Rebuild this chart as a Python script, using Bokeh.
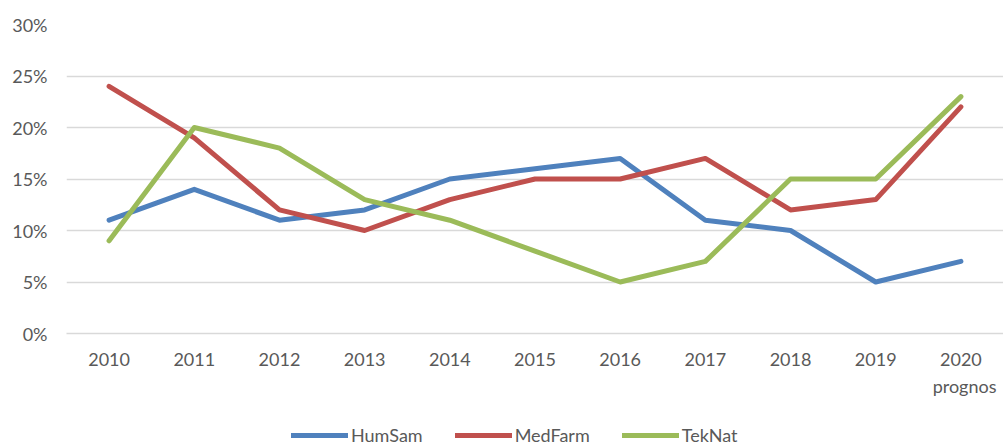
from bokeh.plotting import figure
from bokeh.layouts import column
from bokeh.models import FactorRange, Legend, LegendItem, Range1d, NumeralTickFormatter, FixedTicker, Title
from bokeh.embed import file_html
from bokeh.resources import INLINE

years = ["2010", "2011", "2012", "2013", "2014", "2015", "2016", "2017", "2018", "2019", "2020"]
humsam = [0.11, 0.14, 0.11, 0.12, 0.15, 0.16, 0.17, 0.11, 0.10, 0.05, 0.07]
medfarm = [0.24, 0.19, 0.12, 0.10, 0.13, 0.15, 0.15, 0.17, 0.12, 0.13, 0.22]
teknat = [0.09, 0.20, 0.18, 0.13, 0.11, 0.08, 0.05, 0.07, 0.15, 0.15, 0.23]
y_ticks = [0, 0.05, 0.10, 0.15, 0.20, 0.25, 0.30]
last_label_extra = "prognos"
series_names = ["HumSam", "MedFarm", "TekNat"]
series_colors = ["#4F81BD", "#C0504D", "#9BBB59"]
series_values = [humsam, medfarm, teknat]

FONT = "Lato"
FS = "18px"
TXT = "#595959"

p = figure(x_range=FactorRange(*years, range_padding=0), y_range=Range1d(0, 0.30),
           width=1003, height=400, output_backend="svg", toolbar_location=None,
           min_border_left=66, min_border_right=0, min_border_top=24, min_border_bottom=66)
p.outline_line_color = None
p.xgrid.grid_line_color = None
p.ygrid.grid_line_color = "#d9d9d9"
p.ygrid.grid_line_width = 1.5
p.yaxis.ticker = FixedTicker(ticks=y_ticks)
p.yaxis.formatter = NumeralTickFormatter(format="0%")
p.yaxis.axis_line_color = None
p.yaxis.major_tick_line_color = None
p.yaxis.minor_tick_line_color = None
p.yaxis.major_tick_out = 0
p.yaxis.major_label_standoff = 19
p.xaxis.axis_line_color = "#d9d9d9"
p.xaxis.axis_line_width = 1.5
p.xaxis.major_tick_line_color = None
p.xaxis.major_tick_out = 0
p.xaxis.major_label_standoff = 19
for ax in (p.xaxis, p.yaxis):
    ax.major_label_text_font = FONT
    ax.major_label_text_font_size = FS
    ax.major_label_text_color = TXT

for name, vals, col in zip(series_names, series_values, series_colors):
    p.line(years, vals, line_color=col, line_width=5, line_join="round", line_cap="round")

prog = Title(text=last_label_extra, align="right", offset=7, standoff=8,
             text_font=FONT, text_font_size=FS, text_font_style="normal", text_color=TXT)
p.add_layout(prog, "below")

# legend strip (series drawn outside its visible y range, only the legend shows)
q = figure(x_range=p.x_range, y_range=Range1d(1, 2), width=1003, height=46,
           output_backend="svg", toolbar_location=None, x_axis_type=None, y_axis_type=None,
           min_border_left=66, min_border_right=0, min_border_top=0, min_border_bottom=0)
q.outline_line_color = None
q.xgrid.visible = False
q.ygrid.visible = False
items = []
for name, vals, col in zip(series_names, series_values, series_colors):
    r = q.line(years, vals, line_color=col, line_width=5, line_cap="round")
    items.append(LegendItem(label=name, renderers=[r]))
legend = Legend(items=items, orientation="horizontal", location=(225, 0),
                label_text_font=FONT, label_text_font_size=FS, label_text_color=TXT,
                glyph_width=57, glyph_height=16, label_height=16, spacing=32, label_standoff=3,
                border_line_color=None, background_fill_alpha=0, margin=0, padding=0)
q.add_layout(legend, "center")

layout = column(p, q, spacing=0)
open("out.html", "w").write(file_html(layout, INLINE))
